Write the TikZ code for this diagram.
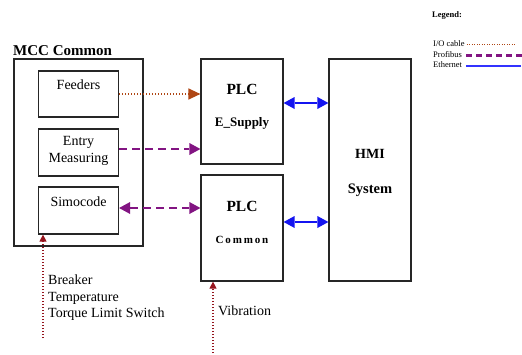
\documentclass[tikz,border=0pt]{standalone}
\usepackage{fontspec}
\setmainfont{Liberation Serif}
\usetikzlibrary{arrows.meta}
\definecolor{iobrown}{RGB}{175,70,20}
\definecolor{pbpurple}{RGB}{130,20,130}
\definecolor{ethblue}{RGB}{20,20,240}
\definecolor{legblue}{RGB}{50,50,255}
\definecolor{sigred}{RGB}{150,20,30}
\begin{document}
\begin{tikzpicture}[x=1pt,y=-1pt,
  box/.style={draw=black!85,line width=1.2pt,inner sep=0pt},
  txt/.style={font=\fontsize{14}{16.5}\selectfont,inner sep=0pt},
  btxt/.style={font=\bfseries\fontsize{15.5}{17}\selectfont,inner sep=0pt},
  sbtxt/.style={font=\bfseries\fontsize{13}{14}\selectfont,inner sep=0pt},
  iocable/.style={draw=iobrown,line width=1.3pt,dash pattern=on 1.2pt off 1.8pt,-{Triangle[length=12pt,width=11pt,fill=iobrown]}},
  profibus/.style={draw=pbpurple,line width=2.8pt,dash pattern=on 8pt off 5pt,-{Triangle[length=11pt,width=12pt,fill=pbpurple,line width=0pt]}},
  profibus2/.style={draw=pbpurple,line width=2.8pt,dash pattern=on 8pt off 5pt,{Triangle[length=11pt,width=12pt,fill=pbpurple,line width=0pt]}-{Triangle[length=11pt,width=12pt,fill=pbpurple,line width=0pt]}},
  ethernet/.style={draw=ethblue,line width=2.6pt,{Triangle[length=11pt,width=12pt,fill=ethblue,line width=0pt]}-{Triangle[length=11pt,width=12pt,fill=ethblue,line width=0pt]}},
  signal/.style={draw=sigred,line width=1.2pt,dash pattern=on 1.2pt off 1.8pt,-{Triangle[length=7pt,width=7pt,fill=sigred]}},
  legtxt/.style={inner sep=0pt,font=\fontsize{8.5}{10}\selectfont,anchor=west}
]
\useasboundingbox (0,0) rectangle (522,354);
% MCC
\node[box,minimum width=129pt,minimum height=187pt] (mcc) at (78.5,152.5) {};
\node[btxt,font=\bfseries\fontsize{15}{17}\selectfont,anchor=base west] (mcctitle) at (13,55) {MCC Common};
\node[box,minimum width=80pt,minimum height=46pt] (feed) at (78.5,94) {};
\node[txt] (feedt) at (78.5,85) {Feeders};
\node[box,minimum width=80pt,minimum height=47pt] (entry) at (78.5,152.5) {};
\node[txt,align=center] (entryt) at (78.5,151) {Entry\\Measuring};
\node[box,minimum width=80pt,minimum height=47pt] (simo) at (78.5,210.5) {};
\node[txt] (simot) at (78.5,202) {Simocode};
% PLCs
\node[box,minimum width=82pt,minimum height=105pt] (plce) at (242,111.5) {};
\node[btxt] (plcet1) at (242,89) {PLC};
\node[sbtxt] (plcet2) at (242,123) {E\_Supply};
\node[box,minimum width=82pt,minimum height=106pt] (plcc) at (242,228) {};
\node[btxt] (plcct1) at (242,206) {PLC};
\node[sbtxt,font=\bfseries\fontsize{11}{12}\selectfont] (plcct2) at (242,240) {C\,o\,m\,m\,o\,n};
% HMI
\node[box,minimum width=82pt,minimum height=222pt] (hmi) at (370,170) {};
\node[btxt,font=\bfseries\fontsize{14}{16}\selectfont] (hmit1) at (370,154) {HMI};
\node[sbtxt,font=\bfseries\fontsize{14.5}{16}\selectfont] (hmit2) at (370,190) {System};
% connectors
\draw[iocable] (feed.east) -- (plce.west |- feed.east);
\draw[profibus] (entry.east |- 0,149) -- (plce.west |- 0,149);
\draw[profibus2] (simo.east |- 0,208) -- (plcc.west |- 0,208);
\draw[ethernet] (plce.east |- 0,103) -- (hmi.west |- 0,103);
\draw[ethernet] (plcc.east |- 0,222) -- (hmi.west |- 0,222);
% field signals
\coordinate (sigA) at (43,338);
\coordinate (sigB) at (213,353);
\draw[signal] (sigA) -- (sigA |- simo.south);
\draw[signal] (sigB) -- (sigB |- plcc.south);
\node[txt,anchor=west,align=left] (sigAt) at (48,298) {Breaker\\Temperature\\Torque Limit Switch};
\node[txt,anchor=west] (sigBt) at (218,311) {Vibration};
% legend
\node[legtxt,font=\bfseries\fontsize{8.5}{10}\selectfont] (leg) at (432,15) {Legend:};
\node[legtxt] (legio) at (433,43.5) {I/O cable};
\node[legtxt] (legpb) at (433,54.5) {Profibus};
\node[legtxt] (legeth) at (433,65) {Ethernet};
\coordinate (legioE) at (516,44.5);
\coordinate (legpbE) at (522,55.5);
\coordinate (legethE) at (521,65.5);
\draw[draw=iobrown,line width=1pt,dash pattern=on 1pt off 1.5pt] (legio.east |- legioE) ++(2,0) -- (legioE);
\draw[draw=pbpurple,line width=2.4pt,dash pattern=on 6pt off 4pt] (legpb.east |- legpbE) ++(4,0) -- (legpbE);
\draw[draw=legblue,line width=2pt] (legeth.east |- legethE) ++(4,0) -- (legethE);
\end{tikzpicture}
\end{document}
